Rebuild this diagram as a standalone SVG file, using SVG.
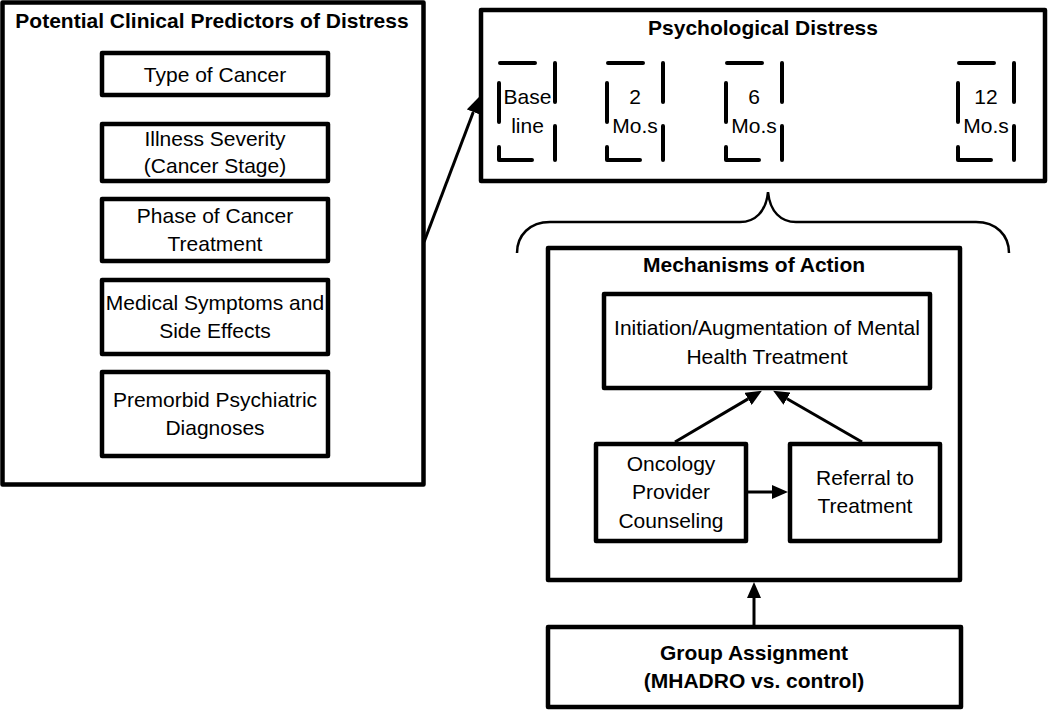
<svg xmlns="http://www.w3.org/2000/svg" width="1050" height="714" viewBox="0 0 1050 714">
<style>
.box{fill:none;stroke:#000;stroke-width:4.5;stroke-linejoin:round}
.t{font-family:"Liberation Sans",Arial,sans-serif;font-size:21px;fill:#000;text-anchor:middle}
.b{font-weight:bold}
.ln{fill:none;stroke:#000;stroke-width:3}
.dash{fill:none;stroke:#000;stroke-width:4;stroke-linecap:round;stroke-linejoin:round}
</style>
<defs>
<marker id="ah" viewBox="0 0 16 14" markerWidth="16" markerHeight="14" refX="0" refY="7" orient="auto" markerUnits="userSpaceOnUse">
<path d="M0,0 L16,7 L0,14 z" fill="#000"/>
</marker>
<path id="dbox" class="dash" d="M1,0 H36 M56,0 V39 M0,20 V59 M56,63 V97 M0,84 V97 H33"/>
</defs>
<rect width="1050" height="714" fill="#fff"/>

<g id="predictors">
<rect class="box" x="2.5" y="2.5" width="421" height="482"/>
<text class="t b" x="212" y="28">Potential Clinical Predictors of Distress</text>
</g>
<g id="type-of-cancer">
<rect class="box" x="102" y="53" width="226" height="42"/>
<text class="t" x="215" y="82">Type of Cancer</text>
</g>
<g id="illness-severity">
<rect class="box" x="102" y="124" width="226" height="57"/>
<text class="t" x="215" y="146">Illness Severity</text>
<text class="t" x="215" y="173">(Cancer Stage)</text>
</g>
<g id="phase">
<rect class="box" x="102" y="199" width="226" height="62"/>
<text class="t" x="215" y="223">Phase of Cancer</text>
<text class="t" x="215" y="251">Treatment</text>
</g>
<g id="symptoms">
<rect class="box" x="102" y="280" width="226" height="74"/>
<text class="t" x="215" y="310">Medical Symptoms and</text>
<text class="t" x="215" y="338">Side Effects</text>
</g>
<g id="premorbid">
<rect class="box" x="102" y="372" width="226" height="84"/>
<text class="t" x="215" y="407">Premorbid Psychiatric</text>
<text class="t" x="215" y="435">Diagnoses</text>
</g>

<g id="distress">
<rect class="box" x="481" y="10" width="564" height="171"/>
<text class="t b" x="763" y="35">Psychological Distress</text>
<use href="#dbox" x="499" y="63"/>
<use href="#dbox" x="607" y="63"/>
<use href="#dbox" x="726" y="63"/>
<use href="#dbox" x="958" y="63"/>
<text class="t" x="527.5" y="104">Base</text>
<text class="t" x="527.5" y="133">line</text>
<text class="t" x="635" y="104">2</text>
<text class="t" x="635" y="133">Mo.s</text>
<text class="t" x="754" y="104">6</text>
<text class="t" x="754" y="133">Mo.s</text>
<text class="t" x="986" y="104">12</text>
<text class="t" x="986" y="133">Mo.s</text>
</g>

<g id="brace">
<path fill="none" stroke="#000" stroke-width="2.5" d="M517,253 C517,235 530,222 550,222 L740,222 C755,222 766,212 768,192 C770,212 781,222 796,222 L976,222 C996,222 1009,235 1009,253"/>
</g>

<g id="mechanisms">
<rect class="box" x="548" y="248" width="412" height="332"/>
<text class="t b" x="754" y="272">Mechanisms of Action</text>
</g>
<g id="initiation">
<rect class="box" x="604" y="294" width="326" height="94"/>
<text class="t" x="767" y="335">Initiation/Augmentation of Mental</text>
<text class="t" x="767" y="364">Health Treatment</text>
</g>
<g id="oncology">
<rect class="box" x="596" y="444" width="150" height="97"/>
<text class="t" x="671" y="471">Oncology</text>
<text class="t" x="671" y="499">Provider</text>
<text class="t" x="671" y="528">Counseling</text>
</g>
<g id="referral">
<rect class="box" x="790" y="444" width="150" height="97"/>
<text class="t" x="865" y="485">Referral to</text>
<text class="t" x="865" y="513">Treatment</text>
</g>
<g id="group">
<rect class="box" x="548" y="627" width="413" height="80"/>
<text class="t b" x="754" y="660">Group Assignment</text>
<text class="t b" x="754" y="688">(MHADRO vs. control)</text>
</g>

<g id="connectors">
<line class="ln" x1="424" y1="242" x2="473.3" y2="112" marker-end="url(#ah)"/>
<line class="ln" x1="675" y1="442" x2="748.1" y2="398.9" marker-end="url(#ah)"/>
<line class="ln" x1="862" y1="442" x2="787" y2="398.7" marker-end="url(#ah)"/>
<line class="ln" x1="748" y1="492" x2="772" y2="492" marker-end="url(#ah)"/>
<line class="ln" x1="754" y1="625" x2="754" y2="598" marker-end="url(#ah)"/>
</g>
</svg>
